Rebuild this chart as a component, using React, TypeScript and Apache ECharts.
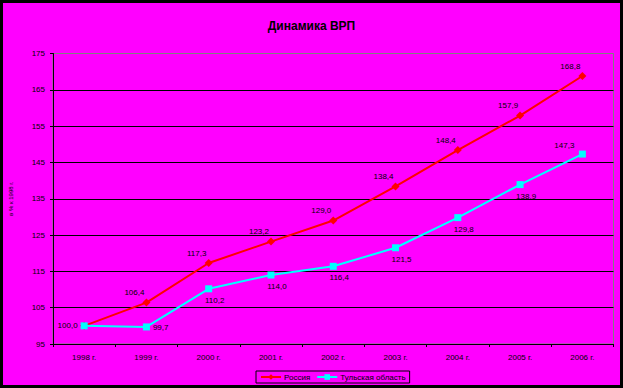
import React, { useEffect, useRef } from "react";
import * as echarts from "echarts";

const categories = ["1998 г.", "1999 г.", "2000 г.", "2001 г.", "2002 г.", "2003 г.", "2004 г.", "2005 г.", "2006 г."];
const russia = [100.0, 106.4, 117.3, 123.2, 129.0, 138.4, 148.4, 157.9, 168.8];
const tula = [100.0, 99.7, 110.2, 114.0, 116.4, 121.5, 129.8, 138.9, 147.3];
const seriesNames = ["Россия", "Тульская область"];
const yTicks = { min: 95, max: 175, interval: 10 };

const FONT = "'Liberation Sans', Arial, sans-serif";
const fmt = (v: number) => v.toFixed(1).replace(".", ",");

export default function App() {
  const ref = useRef<HTMLDivElement>(null);
  useEffect(() => {
    if (!ref.current) return;
    const chart = echarts.init(ref.current, null, { renderer: "svg" });
    const russiaData = russia.map((v, i) => ({
      value: v,
      label:
        i === 0
          ? { show: false }
          : { show: true, position: "top", distance: 2, offset: [-12, 0] },
    }));
    const tulaData = tula.map((v, i) => {
      let label: any = { show: true, position: "bottom", distance: 4, offset: [6, 0] };
      if (i === 0) label = { show: true, position: "left", distance: 3 };
      if (i === 1) label = { show: true, position: "right", distance: 3, offset: [0, 1] };
      if (i === tula.length - 1) label = { show: true, position: "top", distance: 1, offset: [-18, 0] };
      return { value: v, label };
    });
    const labelStyle = {
      color: "#000",
      fontSize: 8,
      fontFamily: FONT,
      formatter: (p: any) => fmt(p.value),
    };
    chart.setOption({
      animation: false,
      backgroundColor: "#000",
      graphic: [
        {
          type: "rect",
          z: -10,
          shape: { x: 3, y: 3, width: 617, height: 382 },
          style: { fill: "#FF00FF" },
        },
      ],
      title: {
        text: "Динамика ВРП",
        left: "center",
        top: 15,
        textStyle: { fontSize: 12, fontWeight: "bold", color: "#000", fontFamily: FONT },
      },
      grid: {
        left: 51,
        top: 53.5,
        right: 9.5,
        bottom: 44,
        show: true,
        borderColor: "#808080",
        borderWidth: 1,
        backgroundColor: "transparent",
      },
      legend: {
        left: 256,
        top: 371,
        width: 150,
        borderColor: "#000",
        borderWidth: 1,
        padding: [2, 4, 2, 4],
        itemGap: 6,
        itemWidth: 20,
        itemHeight: 7,
        textStyle: { fontSize: 8, color: "#000", fontFamily: FONT, padding: [0, 0, 0, -2] },
        data: seriesNames,
      },
      xAxis: {
        type: "category",
        data: categories,
        boundaryGap: true,
        axisLine: { lineStyle: { color: "#000", width: 1 } },
        axisTick: { show: true, length: 3, lineStyle: { color: "#000" } },
        axisLabel: { color: "#000", fontSize: 8, fontFamily: FONT, margin: 9 },
        splitLine: { show: false },
      },
      yAxis: {
        type: "value",
        min: yTicks.min,
        max: yTicks.max,
        interval: yTicks.interval,
        name: "в % к 1998 г.",
        nameLocation: "middle",
        nameRotate: 90,
        nameGap: 39,
        nameTextStyle: { fontSize: 6, color: "#000", fontFamily: FONT },
        axisLine: { show: true, lineStyle: { color: "#000", width: 1 } },
        axisTick: { show: true, length: 3, lineStyle: { color: "#000" } },
        axisLabel: { color: "#000", fontSize: 8, fontFamily: FONT, margin: 8 },
        splitLine: {
          show: true,
          lineStyle: {
            color: ["#000", "#000", "#000", "#000", "#000", "#000", "#000", "#000", "#808080"],
            width: 1,
          },
        },
      },
      series: [
        {
          name: seriesNames[0],
          type: "line",
          data: russiaData,
          symbol: "diamond",
          symbolSize: 8,
          itemStyle: { color: "#FF0000" },
          lineStyle: { color: "#FF0000", width: 2 },
          label: labelStyle,
          z: 2,
        },
        {
          name: seriesNames[1],
          type: "line",
          data: tulaData,
          symbol: "rect",
          symbolSize: 7,
          itemStyle: { color: "#00FFFF" },
          lineStyle: { color: "#00FFFF", width: 2 },
          label: labelStyle,
          z: 3,
        },
      ],
    });
    return () => chart.dispose();
  }, []);
  return (
    <div
      ref={ref}
      style={{ position: "absolute", left: 0, top: 0, width: 623, height: 388 }}
    />
  );
}
